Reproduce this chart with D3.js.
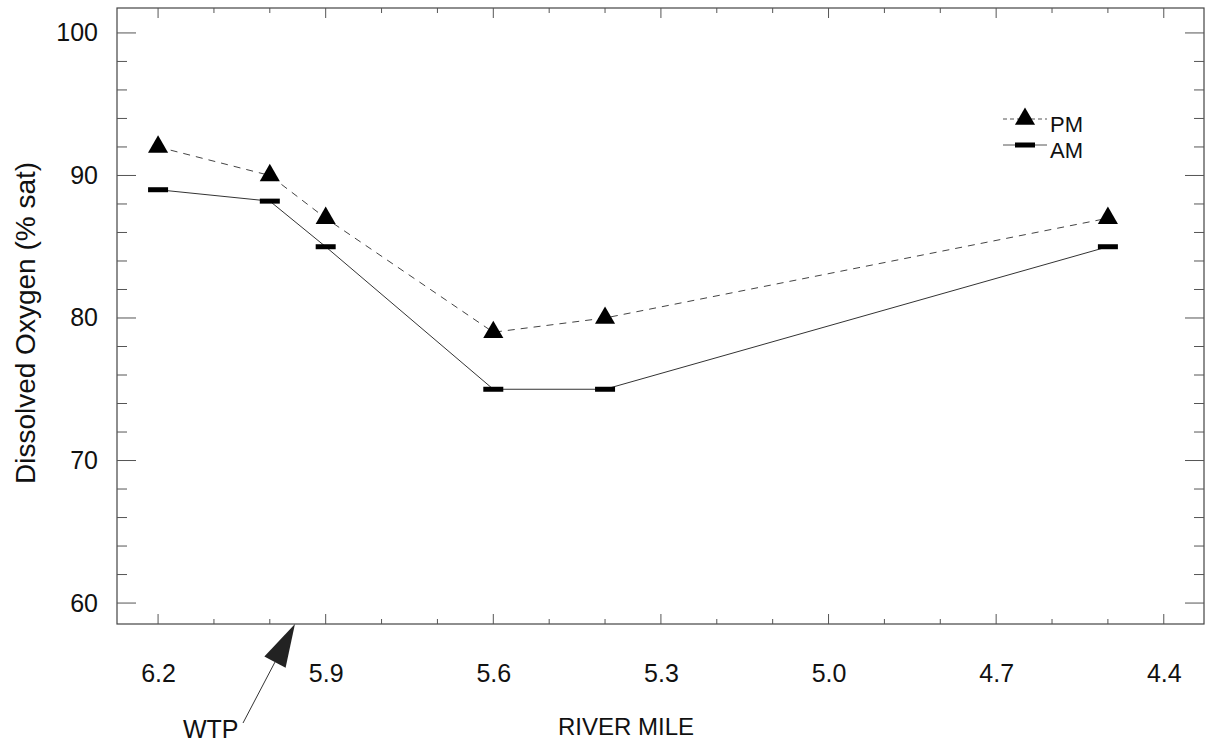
<!DOCTYPE html>
<html lang="en">
<head>
    <meta charset="UTF-8">
    <title>Dissolved Oxygen</title>
    <script src="https://cdn.jsdelivr.net/npm/d3@7/dist/d3.min.js"></script>
    <style>
        body {
            margin: 0;
            background: #ffffff;
        }
        text {
            font-family: "Liberation Sans", Arial, Helvetica, sans-serif;
            fill: #111;
        }
    </style>
</head>
<body>
<div id="chart"></div>
<script>
    // DO (% sat) along the river, morning and afternoon

    const riverMile = [6.2, 6.0, 5.9, 5.6, 5.4, 4.5];
    const pmValues = [92, 90, 87, 79, 80, 87];
    const amValues = [89, 88.2, 85, 75, 75, 85];

    const xTickValues = [6.2, 6.1, 6.0, 5.9, 5.8, 5.7, 5.6, 5.5, 5.4, 5.3, 5.2, 5.1, 5.0, 4.9, 4.8, 4.7, 4.6, 4.5, 4.4];
    const xLabelValues = [6.2, 5.9, 5.6, 5.3, 5.0, 4.7, 4.4];
    const yTickValues = [60, 62, 64, 66, 68, 70, 72, 74, 76, 78, 80, 82, 84, 86, 88, 90, 92, 94, 96, 98, 100];
    const yLabelValues = [60, 70, 80, 90, 100];
    const seriesNames = ["PM", "AM"];
    const wtpMile = 5.955;

    const width = 1210;
    const height = 744;
    const margin = {top: 8, right: 6, bottom: 120, left: 117};

    const svg = d3.select("#chart")
        .append("svg")
        .attr("width", width)
        .attr("height", height);

    const x = d3.scaleLinear()
        .domain([6.2735, 4.328])
        .range([margin.left, width - margin.right]);

    const y = d3.scaleLinear()
        .domain([58.53, 101.75])
        .range([height - margin.bottom, margin.top]);

    const x0 = margin.left, x1 = width - margin.right;
    const y0 = height - margin.bottom, y1 = margin.top;

    const isMajorX = d => Math.abs(Math.round((6.2 - d) / 0.3 * 1000) / 1000 % 1) < 1e-6;
    const isMajorY = d => d % 10 === 0;

    //frame
    svg.append("rect")
        .attr("x", x0)
        .attr("y", y1)
        .attr("width", x1 - x0)
        .attr("height", y0 - y1)
        .attr("fill", "none")
        .attr("stroke", "#444")
        .attr("stroke-width", 1.2);

    // tick marks, all pointing inward
    function ticks(g, orient, scale, values, major, long, short) {
        g.selectAll("line")
            .data(values)
            .enter()
            .append("line")
            .attr("stroke", "#555")
            .attr("stroke-width", 1)
            .each(function (d) {
                const len = major(d) ? long : short;
                const s = d3.select(this);
                if (orient === "bottom") s.attr("x1", scale(d)).attr("x2", scale(d)).attr("y1", y0).attr("y2", y0 - len);
                if (orient === "top") s.attr("x1", scale(d)).attr("x2", scale(d)).attr("y1", y1).attr("y2", y1 + len);
                if (orient === "left") s.attr("y1", scale(d)).attr("y2", scale(d)).attr("x1", x0).attr("x2", x0 + len);
                if (orient === "right") s.attr("y1", scale(d)).attr("y2", scale(d)).attr("x1", x1).attr("x2", x1 - len);
            });
    }
    ticks(svg.append("g"), "bottom", x, xTickValues, isMajorX, 10, 5);
    ticks(svg.append("g"), "top", x, xTickValues, isMajorX, 10, 5);
    ticks(svg.append("g"), "left", y, yTickValues, isMajorY, 19, 10);
    ticks(svg.append("g"), "right", y, yTickValues, isMajorY, 19, 10);

    // tick labels
    svg.append("g")
        .attr("transform", `translate(0,${y0})`)
        .call(d3.axisBottom(x).tickValues(xLabelValues).tickSize(0).tickPadding(40).tickFormat(d3.format(".1f")))
        .call(g => g.select(".domain").remove())
        .selectAll("text")
        .attr("font-size", 25)
        .attr("font-family", null)
        .attr("fill", "#111");

    svg.append("g")
        .attr("transform", `translate(${x0},0)`)
        .call(d3.axisLeft(y).tickValues(yLabelValues).tickSize(0).tickPadding(19))
        .call(g => g.select(".domain").remove())
        .selectAll("text")
        .attr("font-size", 25)
        .attr("font-family", null)
        .attr("fill", "#111");

    // axis titles
    svg.append("text")
        .attr("transform", "translate(35,323) rotate(-90)")
        .attr("text-anchor", "middle")
        .attr("font-size", 28)
        .text("Dissolved Oxygen (% sat)");

    svg.append("text")
        .attr("x", 626)
        .attr("y", 735)
        .attr("text-anchor", "middle")
        .attr("font-size", 24)
        .text("RIVER MILE");

    // lines
    const pmData = riverMile.map((m, i) => ({mile: m, value: pmValues[i]}));
    const amData = riverMile.map((m, i) => ({mile: m, value: amValues[i]}));

    const line = d3.line()
        .x(d => x(d.mile))
        .y(d => y(d.value));

    svg.append("path")
        .datum(pmData)
        .attr("d", line)
        .attr("fill", "none")
        .attr("stroke", "#444")
        .attr("stroke-width", 1)
        .attr("stroke-dasharray", "7,6");

    svg.append("path")
        .datum(amData)
        .attr("d", line)
        .attr("fill", "none")
        .attr("stroke", "#333")
        .attr("stroke-width", 1);

    const triangle = d3.symbol().type(d3.symbolTriangle).size(175);

    svg.append("g")
        .selectAll("path")
        .data(pmData)
        .enter()
        .append("path")
        .attr("d", triangle)
        .attr("transform", d => `translate(${x(d.mile)},${y(d.value)})`)
        .attr("fill", "#000");

    svg.append("g")
        .selectAll("rect")
        .data(amData)
        .enter()
        .append("rect")
        .attr("x", d => x(d.mile) - 10)
        .attr("y", d => y(d.value) - 2.5)
        .attr("width", 20)
        .attr("height", 5)
        .attr("fill", "#000");

    // legend
    const legend = svg.append("g").attr("transform", "translate(1003,0)");
    const rowY = [119, 145];
    seriesNames.forEach((name, i) => {
        const ly = rowY[i];
        legend.append("line")
            .attr("x1", 0).attr("x2", 44)
            .attr("y1", ly).attr("y2", ly)
            .attr("stroke", "#555")
            .attr("stroke-width", 1)
            .attr("stroke-dasharray", i === 0 ? "4,3" : null);
        if (i === 0) {
            legend.append("path")
                .attr("d", triangle)
                .attr("transform", `translate(22,${ly})`)
                .attr("fill", "#000");
        } else {
            legend.append("rect")
                .attr("x", 12).attr("y", ly - 2.5)
                .attr("width", 20).attr("height", 5)
                .attr("fill", "#000");
        }
        legend.append("text")
            .attr("x", 47)
            .attr("y", ly + 13)
            .attr("font-size", 22)
            .text(name);
    });

    // WTP marker
    const tipX = x(wtpMile), tipY = y0;
    const tail = [243, 723];
    const ang = Math.atan2(tipY - tail[1], tipX - tail[0]);
    const headLen = 43, headHalf = 12;
    const bx = tipX - headLen * Math.cos(ang), by = tipY - headLen * Math.sin(ang);
    const px = -Math.sin(ang) * headHalf, py = Math.cos(ang) * headHalf;

    svg.append("line")
        .attr("x1", tail[0]).attr("y1", tail[1])
        .attr("x2", bx).attr("y2", by)
        .attr("stroke", "#333")
        .attr("stroke-width", 1);

    svg.append("path")
        .attr("d", `M${tipX},${tipY}L${bx + px},${by + py}L${bx - px},${by - py}Z`)
        .attr("fill", "#222");

    svg.append("text")
        .attr("x", 183)
        .attr("y", 738)
        .attr("font-size", 25)
        .text("WTP");
</script>
</body>
</html>
